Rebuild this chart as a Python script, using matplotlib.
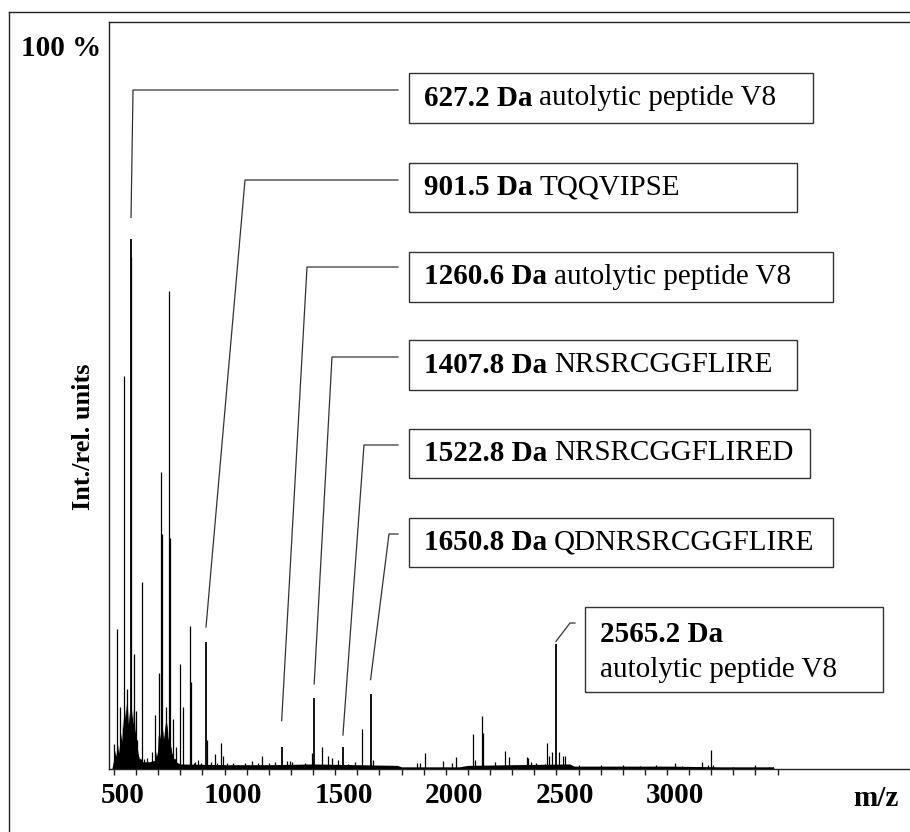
import matplotlib
matplotlib.use("Agg")
import matplotlib.pyplot as plt
from matplotlib.lines import Line2D
from matplotlib.patches import Rectangle
from matplotlib.transforms import ScaledTranslation

W, H = 910, 832

# spectrum sticks (m/z, relative intensity %)
peak_mz = [502, 515, 527, 545, 559, 579, 589, 600, 606, 625, 635, 650, 670, 684,
           705, 712, 717, 737, 750, 755, 767, 782, 798, 810, 844, 850, 862, 866,
           880, 895, 922, 940, 957, 965, 984, 991, 1010, 1038, 1061, 1090, 1125,
           1150, 1171, 1200, 1230, 1283, 1295, 1305, 1341, 1365, 1394, 1442,
           1467, 1484, 1514, 1559, 1590, 1622, 1670, 1717, 1763, 1870, 1885,
           1906, 1989, 2027, 2046, 2123, 2132, 2162, 2166, 2222, 2266, 2284,
           2320, 2366, 2372, 2385, 2408, 2448, 2457, 2466, 2481, 2512, 2531,
           2539, 2600, 2700, 2803, 2878, 2950, 3035, 3067, 3157, 3187, 3200,
           3210, 3300, 3400, 3460, 3478]
peak_int = [3.5, 19.4, 8.6, 54.5, 11.1, 71.0, 16.0, 8.0, 4.0, 26.0, 1.4, 1.5, 2.4, 7.5,
            13.3, 41.2, 32.6, 8.6, 66.3, 32.0, 7.0, 3.0, 14.6, 8.6, 19.8, 12.0, 0.8, 1.0,
            1.2, 0.9, 4.0, 1.0, 2.1, 0.8, 3.6, 1.8, 0.9, 0.8, 0.6, 0.8, 1.1,
            0.9, 1.8, 0.8, 1.0, 1.1, 1.1, 1.0, 0.6, 0.9, 2.2, 3.0,
            1.8, 1.5, 1.3, 0.7, 1.0, 5.5, 1.3, 0.4, 0.4, 0.8, 0.8,
            2.2, 1.1, 0.8, 1.6, 4.9, 1.3, 7.3, 5.0, 1.0, 2.5, 1.7,
            0.4, 1.7, 1.5, 1.0, 0.9, 0.7, 3.6, 1.8, 2.4, 2.4, 1.8,
            1.8, 0.6, 0.5, 0.6, 0.4, 0.6, 0.9, 0.4, 1.0, 0.5, 2.7,
            0.6, 0.3, 0.5, 0.3, 0.3]

# unresolved background under the sticks
floor_mz = [490, 500, 506, 510, 516, 520, 524, 527, 532, 535, 539, 542, 547, 550,
            554, 557, 561, 565, 569, 572, 576, 580, 584, 587, 592, 595, 599, 603,
            607, 610, 615, 620, 630, 660, 685, 692, 696, 700, 704, 708, 712, 715,
            719, 722, 726, 730, 735, 740, 745, 750, 754, 758, 762, 765, 770, 775,
            785, 800, 1000, 1200, 1400, 1600, 1780, 1800, 2060, 2100, 2300, 2560,
            2580, 2800, 3000, 3250, 3480, 3485]
floor_int = [0, 1.5, 2.6, 1.8, 2.4, 3.4, 2.2, 3.2, 5.0, 3.8, 7.2, 5.6, 8.8, 7.0,
             9.2, 6.8, 8.6, 6.2, 8.0, 5.8, 8.8, 7.0, 8.4, 6.2, 7.8, 5.0, 6.0, 3.6,
             2.6, 2.0, 1.4, 1.5, 1.0, 1.0, 1.2, 2.5, 1.8, 4.8, 3.4, 5.0, 3.6, 4.5,
             3.8, 5.5, 4.2, 6.5, 4.8, 6.5, 4.0, 5.5, 3.2, 3.0, 2.0, 2.4, 1.4, 1.5,
             0.9, 0.7, 0.6, 0.6, 0.7, 0.6, 0.5, 0.3, 0.3, 0.5, 0.6, 0.7,
             0.4, 0.4, 0.4, 0.3, 0.3, 0]

# assigned peaks
label_mass = ["627.2", "901.5", "1260.6", "1407.8", "1522.8", "1650.8", "2565.2"]
label_name = ["autolytic peptide V8", "TQQVIPSE", "autolytic peptide V8",
              "NRSRCGGFLIRE", "NRSRCGGFLIRED", "QDNRSRCGGFLIRE",
              "autolytic peptide V8"]
label_peak_mz = [577, 916, 1258, 1405, 1535, 1660, 2498]
label_peak_int = [73.5, 17.6, 3.1, 9.8, 3.1, 10.4, 17.4]

tick_labels = ["500", "1000", "1500", "2000", "2500", "3000"]

# layout in pixels: box (left, top, right, bottom), leader start and knee
boxes = [(409, 73, 813, 123), (409, 163, 797, 212), (409, 252, 833, 302),
         (409, 340, 797, 390), (409, 429, 810, 478), (409, 518, 833, 567),
         (585, 607, 883, 692)]
leader_start = [(398, 90), (398, 180), (398, 267), (398, 357), (398, 445),
                (398, 534), (575, 623)]
leader_knee = [(133, 90), (245, 180), (307, 267), (332, 357), (364, 445),
               (389, 534), (570, 623)]
leader_gap = [3.0, 2.1, 3.6, 2.0, 1.6, 2.0, 0.3]

FONT = "Liberation Serif"
FS = 21
EDGE = "#333333"


def fig_xy(x, y):
    return x / W, 1 - y / H


fig = plt.figure(figsize=(W / 100, H / 100), dpi=100)
ax = fig.add_axes([109 / W, 1 - 769 / H, (W - 109) / W, (769 - 22) / H])

x0 = 500 - 5 / 0.2212
x1 = 500 + (W - 114) / 0.2212
ax.set_xlim(x0, x1)
ax.set_ylim(0, (769 - 22) / 7.21)

ax.fill_between(floor_mz, 0, floor_int, color="black", lw=0)
ax.vlines(peak_mz, 0, peak_int, color="black", lw=0.9)
ax.vlines(label_peak_mz, 0, label_peak_int, color="black", lw=1.3)

ax.spines["right"].set_visible(False)
for s in ["left", "top", "bottom"]:
    ax.spines[s].set_linewidth(1.0)
    ax.spines[s].set_color("#222222")

ax.set_yticks([])
ax.set_xticks([500, 1000, 1500, 2000, 2500, 3000])
ax.set_xticks(range(500, 3600, 100), minor=True)
ax.tick_params(axis="x", which="both", direction="out", length=4.5, width=1.0,
               color="#222222")
ax.set_xticklabels(tick_labels, fontfamily=FONT, fontsize=FS, fontweight="bold")
ax.tick_params(axis="x", pad=5)
shift = ScaledTranslation(6 / 72, 0, fig.dpi_scale_trans)
for lab in ax.get_xticklabels():
    lab.set_transform(lab.get_transform() + shift)

# outer frame
fig.add_artist(Line2D([9 / W, 9 / W], [0, 1 - 12 / H], transform=fig.transFigure,
                      color="#222222", lw=1.0))
fig.add_artist(Line2D([9 / W, 1], [1 - 12 / H, 1 - 12 / H], transform=fig.transFigure,
                      color="#222222", lw=1.0))

fig.text(*fig_xy(21, 48), "100 %", fontfamily=FONT, fontsize=FS, fontweight="bold",
         ha="left", va="center")
fig.text(*fig_xy(83, 437), "Int./rel. units", fontfamily=FONT, fontsize=19,
         fontweight="bold", rotation=90, ha="center", va="center")
fig.text(*fig_xy(876, 798), "m/z", fontfamily=FONT, fontsize=FS, fontweight="bold",
         ha="center", va="center")

for i in range(len(label_mass)):
    l, t, r, b = boxes[i]
    fig.add_artist(Rectangle(fig_xy(l, b), (r - l) / W, (b - t) / H,
                             transform=fig.transFigure, fill=False, ec=EDGE, lw=1.0))
    ex, ey = ax.transData.transform((label_peak_mz[i], label_peak_int[i] + leader_gap[i]))
    sx, sy = fig_xy(*leader_start[i])
    kx, ky = fig_xy(*leader_knee[i])
    fig.add_artist(Line2D([sx, kx, ex / W], [sy, ky, ey / H], transform=fig.transFigure,
                          color=EDGE, lw=0.9))
    if i < 6:
        bold = fig.text(*fig_xy(l + 15, (t + b) / 2), label_mass[i] + " Da",
                        fontfamily=FONT, fontsize=FS, fontweight="bold",
                        ha="left", va="center")
        ax.annotate(label_name[i], xy=(1, 0.5), xycoords=bold, xytext=(5, 0),
                    textcoords="offset points", fontfamily=FONT, fontsize=FS,
                    ha="left", va="center", annotation_clip=False)
    else:
        fig.text(*fig_xy(l + 15, 635), label_mass[i] + " Da", fontfamily=FONT,
                 fontsize=FS, fontweight="bold", ha="left", va="center")
        fig.text(*fig_xy(l + 15, 670), label_name[i], fontfamily=FONT,
                 fontsize=FS, ha="left", va="center")

fig.savefig("out.png", dpi=100)
